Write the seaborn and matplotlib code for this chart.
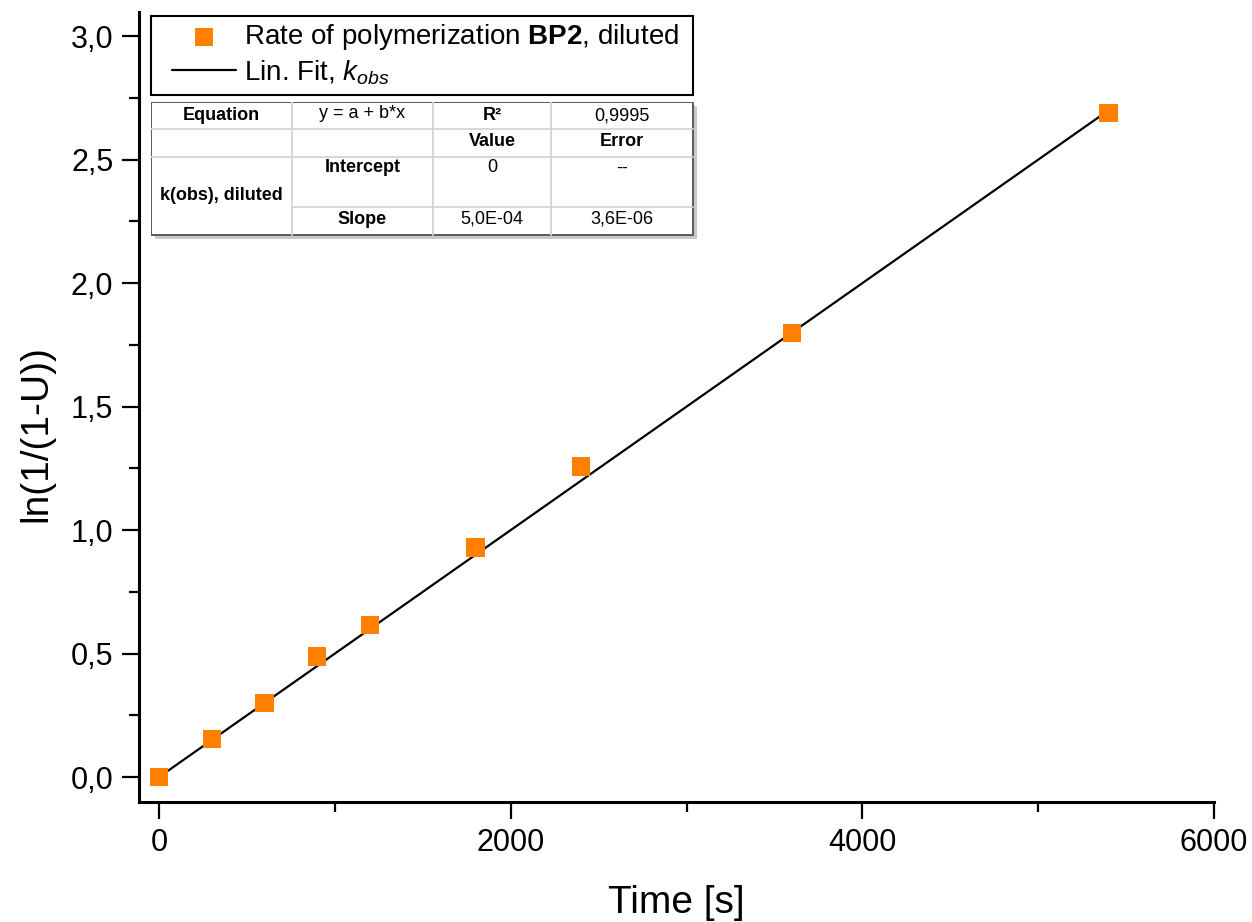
import numpy as np
import pandas as pd
import matplotlib
matplotlib.use("Agg")
import matplotlib.pyplot as plt
import seaborn as sns
from matplotlib.ticker import FuncFormatter, MultipleLocator

# measured data
time_s = [0, 300, 600, 900, 1200, 1800, 2400, 3600, 5400]
ln_val = [0.0, 0.155, 0.30, 0.488, 0.617, 0.930, 1.257, 1.797, 2.690]

# fit parameters (from the result table)
intercept = 0.0
slope = 5.0e-4
fit_x = [0, 5400]

# table contents
tab_rows = [
    ["Equation", "y = a + b*x", "R²", "0,9995"],
    ["", "", "Value", "Error"],
    ["k(obs), diluted", "Intercept", "0", "--"],
    ["", "Slope", "5,0E-04", "3,6E-06"],
]

sns.set_style("ticks")
plt.rcParams["font.family"] = ["Liberation Sans", "DejaVu Sans"]
plt.rcParams["mathtext.fontset"] = "custom"
plt.rcParams["mathtext.rm"] = "Liberation Sans"
plt.rcParams["mathtext.it"] = "Liberation Sans:italic"
plt.rcParams["mathtext.bf"] = "Liberation Sans:bold"
for k in ["text.color", "axes.labelcolor", "xtick.color", "ytick.color", "axes.edgecolor"]:
    plt.rcParams[k] = "black"

W, H = 1252, 922
fig = plt.figure(figsize=(W / 100, H / 100), dpi=100)
ax = fig.add_axes([139 / W, 1 - 802 / H, (1214 - 139) / W, (802 - 12) / H])

df = pd.DataFrame({"t": time_s, "y": ln_val})
fit_df = pd.DataFrame({"t": fit_x, "y": [intercept + slope * v for v in fit_x]})

sns.lineplot(data=fit_df, x="t", y="y", ax=ax, color="black", linewidth=1.6,
             label=r"Lin. Fit, $k_{obs}$", zorder=2)
sns.scatterplot(data=df, x="t", y="y", ax=ax, marker="s", s=175, color="#FF8000",
                edgecolor="none", linewidth=0,
                label=r"Rate of polymerization $\mathbf{BP2}$, diluted", zorder=3)

ax.set_xlim(-114, 6000)
ax.set_ylim(-0.101, 3.098)
ax.xaxis.set_major_locator(MultipleLocator(2000))
ax.xaxis.set_minor_locator(MultipleLocator(1000))
ax.yaxis.set_major_locator(MultipleLocator(0.5))
ax.yaxis.set_minor_locator(MultipleLocator(0.25))
ax.xaxis.set_major_formatter(FuncFormatter(lambda v, p: f"{v:.0f}"))
ax.yaxis.set_major_formatter(FuncFormatter(lambda v, p: f"{v:.1f}".replace(".", ",")))

for s in ["top", "right"]:
    ax.spines[s].set_visible(False)
for s in ["left", "bottom"]:
    ax.spines[s].set_linewidth(2.2)
ax.tick_params(which="major", length=12.5, width=1.6, labelsize=22, pad=6, direction="out")
ax.tick_params(which="minor", length=7, width=1.6, direction="out")

ax.set_xlabel("Time [s]", fontsize=28)
ax.set_ylabel("ln(1/(1-U))", fontsize=28)
ax.xaxis.set_label_coords(0.5, (802 - 885) / 790)
ax.yaxis.set_label_coords((54 - 139) / 1075, (802 - 434) / 790)

# legend: marker entry first, frame drawn separately
h, l = ax.get_legend_handles_labels()
leg = ax.legend(h[::-1], l[::-1], loc="upper left",
                bbox_to_anchor=(172 / W, 1 - 22 / H), bbox_transform=fig.transFigure,
                fontsize=20, frameon=False, borderpad=0, handlelength=2.3,
                handletextpad=0.29, labelspacing=0.22, borderaxespad=0)
fig.patches.append(plt.Rectangle((151 / W, 1 - 95 / H), (693 - 151) / W, (95 - 16) / H,
                                 transform=fig.transFigure, facecolor="none",
                                 edgecolor="black", lw=1.5, zorder=5))

# result table drawn in pixel coordinates of an overlay axes
tx0, tx1, ty0, ty1 = 151, 693, 102, 235
tab = fig.add_axes([tx0 / W, 1 - (ty1 + 6) / H, (tx1 + 6 - tx0) / W, (ty1 + 6 - ty0) / H])
tab.set_xlim(tx0, tx1 + 6)
tab.set_ylim(ty1 + 6, ty0)
tab.axis("off")
tab.add_patch(plt.Rectangle((tx0 + 4, ty0 + 4), tx1 - tx0, ty1 - ty0, color="#c8c8c8", lw=0))
tab.add_patch(plt.Rectangle((tx0, ty0), tx1 - tx0, ty1 - ty0, facecolor="white",
                            edgecolor="#5a5a5a", lw=1.4))
cols = [151, 292, 433, 551, 693]
rows = [102, 129, 157, 207, 235]
grid = "#d4d4d4"
for c in cols[1:-1]:
    tab.plot([c, c], [ty0, ty1], color=grid, lw=1.3)
for i, r in enumerate(rows[1:-1], start=1):
    start = cols[1] if i == 3 else cols[0]
    tab.plot([start, tx1], [r, r], color=grid, lw=1.3)

text_y = [116, 141, 168, 219]
bold = {(0, 0), (0, 2), (1, 2), (1, 3), (2, 0), (2, 1), (3, 1)}
for i, row in enumerate(tab_rows):
    for j, txt in enumerate(row):
        if not txt:
            continue
        yy = 196 if (i, j) == (2, 0) else text_y[i]
        if (i, j) == (0, 1):
            yy = 113
        tab.text((cols[j] + cols[j + 1]) / 2, yy, txt, ha="center", va="center",
                 fontsize=13, fontweight="bold" if (i, j) in bold else "normal")

fig.savefig("out.png", dpi=100, facecolor="white")
